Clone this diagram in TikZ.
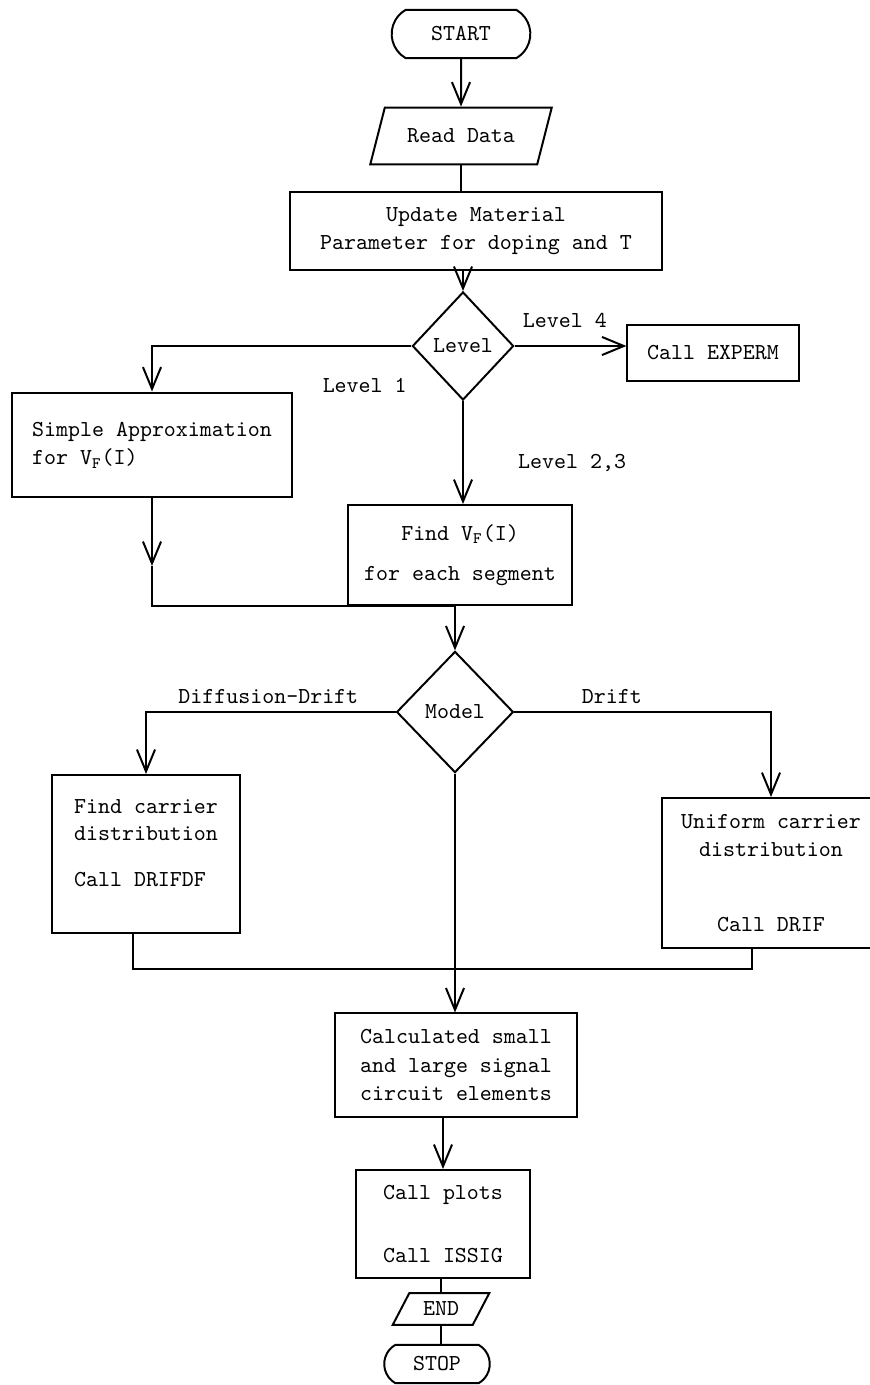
\documentclass[tikz,border=0pt]{standalone}
\usepackage{tikz}
\usetikzlibrary{shapes.geometric, shapes.misc, arrows.meta, positioning}

\begin{document}
\begin{tikzpicture}[x=0.016cm, y=-0.016cm,
    font=\ttfamily\fontsize{10.4}{13}\selectfont, line width=0.9pt,
    box/.style={draw, rectangle, inner sep=2pt},
    term/.style={draw, rounded rectangle, rounded rectangle arc length=120, inner sep=1pt},
    io/.style={draw, trapezium, trapezium left angle=60, trapezium right angle=120,
      trapezium stretches=true, inner sep=1pt},
    decide/.style={draw, diamond, inner sep=0pt},
    arr/.style={-{Straight Barb[length=3.5mm, width=2.9mm]}}]
    \useasboundingbox (0,0) rectangle (869,1385);

    \node[term, minimum width=2.29cm, minimum height=0.77cm] (start) at (461,34) {START};
    \node[io, minimum width=2.91cm, minimum height=0.91cm] (read) at (461,136) {Read Data};
    \node[box, minimum width=5.95cm, minimum height=1.25cm, align=center] (update) at (476,231)
      {Update Material\\Parameter for doping and T};
    \node[decide, minimum width=1.62cm, minimum height=1.73cm] (level) at (463,346) {Level};
    \node[box, minimum width=2.74cm, minimum height=0.91cm] (experm) at (713,353) {Call EXPERM};
    \node[box, minimum width=4.48cm, minimum height=1.68cm, align=left] (simple) at (152,445)
      {Simple Approximation\\for V\textsubscript{F}(I)};
    \node[box, minimum width=3.57cm, minimum height=1.6cm, align=center] (findvf) at (460,555)
      {Find V\textsubscript{F}(I)\\[5pt]for each segment};
    \node[decide, minimum width=1.87cm, minimum height=1.94cm] (model) at (455,712) {Model};
    \node[box, minimum width=3.01cm, minimum height=2.53cm, align=left] (carrier) at (146,854)
      {Find carrier\\[-1pt]distribution\\[8pt]Call DRIFDF\\[-3pt]~};
    \node[box, minimum width=3.49cm, minimum height=2.4cm, align=center] (uniform) at (771,873)
      {Uniform carrier\\distribution\\[21pt]Call DRIF};
    \node[box, minimum width=3.86cm, minimum height=1.65cm, align=left] (calc) at (456,1065)
      {Calculated small\\and large signal\\circuit elements};
    \node[box, minimum width=2.77cm, minimum height=1.73cm, align=left] (plots) at (443,1224)
      {Call plots\\[16pt]Call ISSIG};
    \node[io, minimum width=1.55cm, minimum height=0.51cm] (end) at (441,1309) {END};
    \node[term, minimum width=1.76cm, minimum height=0.61cm] (stop) at (437,1364) {STOP};

    \coordinate (sa) at (150,566);
    \coordinate (cl) at (133,969);
    \coordinate (cr) at (752,969);

    \draw[arr] (start) -- (read);
    \draw (read.south) -- (read.south |- update.north);
    \draw[arr] (update.south -| level.north) -- (level.north);
    \draw[arr] (level.east) -- node[above=0.16cm, pos=0.45] (lfour) {Level 4} (experm.west |- level.east);
    \draw[arr] (level.west) -- node[below=0.38cm, pos=0.18] (lone) {Level 1}
      (level.west -| simple.north) -- (simple.north);
    \draw[arr] (level.south) -- node[right=0.75cm, pos=0.6] (ltwo) {Level 2,3} (level.south |- findvf.north);

    \draw[arr] (simple.south) -- (simple.south |- sa);
    \draw (simple.south |- sa) -- (simple.south |- findvf.south) -- (findvf.south -| model.north);
    \draw[arr] (findvf.south -| model.north) -- (model.north);

    \draw[arr] (model.west) -- node[above, pos=0.51] (ddrift) {Diffusion-Drift}
      (model.west -| carrier.north) -- (carrier.north);
    \draw[arr] (model.east) -- node[above, pos=0.38] (drift) {Drift}
      (model.east -| uniform.north) -- (uniform.north);
    \draw[arr] (model.south) -- (model.south |- calc.north);
    \draw (carrier.south -| cl) -- (cl) -- (cr) -- (uniform.south -| cr);

    \draw[arr] (calc.south -| plots.north) -- (plots.north);
    \draw (plots.south -| end.north) -- (end.north);
    \draw (end.south) -- (end.south |- stop.north);
  \end{tikzpicture}
\end{document}
